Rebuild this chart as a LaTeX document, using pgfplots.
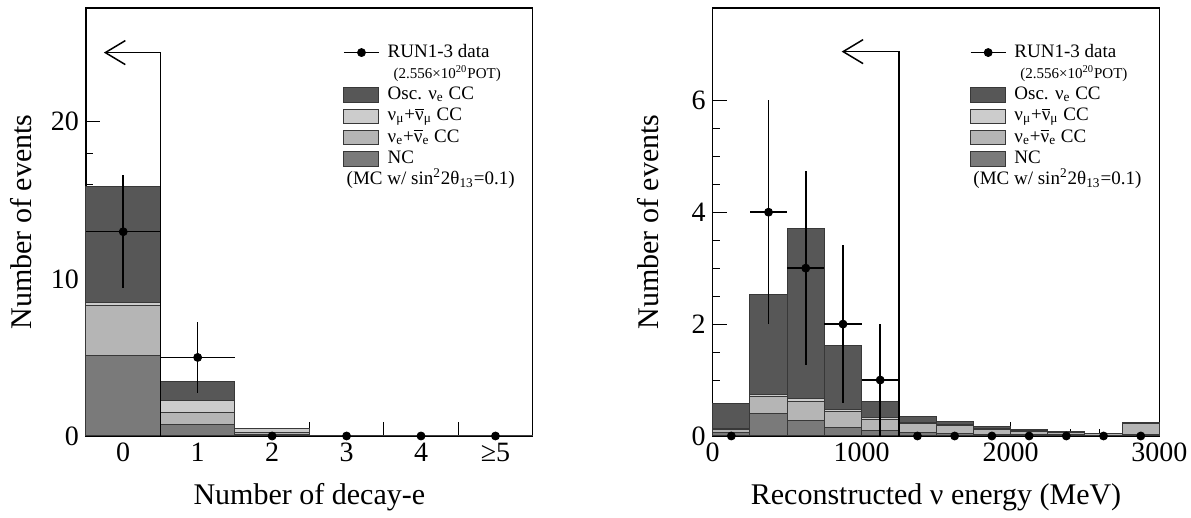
\documentclass[border=0pt]{standalone}
\usepackage{fontspec}
\setmainfont{Liberation Serif}
\usepackage{pgfplots}
\pgfplotsset{compat=1.18}
\usepackage{pgfplotstable}
\usetikzlibrary{arrows.meta}

\definecolor{cosc}{gray}{0.34}
\definecolor{cnumu}{gray}{0.80}
\definecolor{cnue}{gray}{0.71}
\definecolor{cnc}{gray}{0.48}
\definecolor{cedge}{gray}{0.22}

% left: number of decay-e
\pgfplotstableread{
x nc nue numu osc
0 5.10 3.18 0.21 7.37
1 0.72 0.77 0.80 1.21
2 0.12 0.09 0.24 0.02
3 0.01 0.01 0.02 0.01
4 0.00 0.00 0.00 0.00
5 0.00 0.00 0.00 0.00
}\lefttab
\pgfplotstableread{
x y ex ey
0 13 0.5 3.6
1 5 0.5 2.24
2 0 0 0
3 0 0 0
4 0 0 0
5 0 0 0
}\leftdata

% right: reconstructed energy
\pgfplotstableread{
x nc nue numu osc
125 0.06 0.05 0.03 0.44
375 0.40 0.30 0.05 1.78
625 0.27 0.35 0.05 3.03
875 0.15 0.28 0.04 1.14
1125 0.09 0.21 0.03 0.29
1375 0.07 0.15 0.02 0.11
1625 0.05 0.14 0.02 0.05
1875 0.03 0.09 0.01 0.04
2125 0.02 0.06 0.01 0.02
2375 0.02 0.05 0.00 0.01
2625 0.01 0.03 0.00 0.01
2875 0.03 0.19 0.01 0.005
}\righttab
\pgfplotstableread{
x y ex ey
125 0 0 0
375 4 125 2
625 3 125 1.73
875 2 125 1.41
1125 1 125 1
1375 0 0 0
1625 0 0 0
1875 0 0 0
2125 0 0 0
2375 0 0 0
2625 0 0 0
2875 0 0 0
}\rightdata

\pgfplotsset{
  common/.style={
    scale only axis, width=223.35pt, height=214pt,
    anchor=south west, clip=false,
    axis line style={line width=0.7pt},
    tick style={line width=0.5pt, black},
    tick pos=left, tick align=inside,
    major tick length=7pt, minor tick length=3.5pt,
    /pgf/number format/assume math mode=true,
    /pgf/number format/1000 sep={},
    scaled ticks=false,
    tick label style={font=\fontsize{14}{16}\selectfont},
    label style={font=\fontsize{15}{18}\selectfont},
    ylabel={Number of events},
    ylabel style={at={(axis description cs:-0.145,0.5)}, anchor=center},
    xlabel style={at={(axis description cs:0.5,-0.1425)}, anchor=center},
    legend cell align=left,
    legend style={at={(0.575,0.919)}, anchor=north west, draw=none, fill=none,
      inner sep=0pt, column sep=4pt, row sep=1.15pt,
      font=\fontsize{9.5}{11}\selectfont,
      nodes={inner sep=0pt, text height=7pt, text depth=2.5pt}},
  },
  bars/.style={ybar, bar width=#1, bar shift=0pt, draw=cedge, line width=0.5pt, forget plot},
  datastyle/.style={only marks, mark=*, mark size=2pt, black, forget plot,
    error bars/.cd, x dir=both, x explicit, y dir=both, y explicit,
    error bar style={line width=0.75pt, black}, error mark=none},
  legdata/.style={legend image code/.code={
    \draw[line width=0.75pt, black] (0pt,0pt) -- (17.5pt,0pt);
    \fill[black] (8.75pt,0pt) circle (2pt);}},
  legbox/.style={legend image code/.code={
    \draw[fill=#1, draw=cedge, line width=0.5pt] (0pt,-3.6pt) rectangle (17.5pt,3.6pt);}},
}

\newcommand{\legendentries}{%
  \addlegendimage{legdata}
  \addlegendentry{RUN1-3 data}
  \addlegendimage{empty legend}
  \addlegendentry{\fontsize{7.5}{9}\selectfont\hspace*{3pt}(2.556×10\textsuperscript{20}POT)}
  \addlegendimage{legbox=cosc}
  \addlegendentry{Osc. ν\textsubscript{e} CC}
  \addlegendimage{legbox=cnumu}
  \addlegendentry{ν\textsubscript{μ}+$\overline{\mbox{ν}}$\textsubscript{μ} CC}
  \addlegendimage{legbox=cnue}
  \addlegendentry{ν\textsubscript{e}+$\overline{\mbox{ν}}$\textsubscript{e} CC}
  \addlegendimage{legbox=cnc}
  \addlegendentry{NC}
  \addlegendimage{empty legend}
  \addlegendentry{\hspace*{-20.5pt}(MC w/ sin\textsuperscript{2}2θ\textsubscript{13}=0.1)}
}

\begin{document}
\begin{tikzpicture}
\useasboundingbox (0,0) rectangle (595.5pt,259pt);

\begin{axis}[common, at={(43pt,41pt)},
  xmin=-0.5, xmax=5.5, ymin=0, ymax=27.24,
  ytick={0,10,20}, minor y tick num=4,
  xtick={0.5,1.5,2.5,3.5,4.5}, xticklabels={},
  extra x ticks={0,1,2,3,4,5},
  extra x tick labels={0,1,2,3,4,≥5},
  extra x tick style={major tick length=0pt},
  xlabel={Number of decay-e}]
\legendentries
\addplot[bars=1, fill=cosc] table[x=x, y expr=\thisrow{nc}+\thisrow{nue}+\thisrow{numu}+\thisrow{osc}] {\lefttab};
\addplot[bars=1, fill=cnumu] table[x=x, y expr=\thisrow{nc}+\thisrow{nue}+\thisrow{numu}] {\lefttab};
\addplot[bars=1, fill=cnue] table[x=x, y expr=\thisrow{nc}+\thisrow{nue}] {\lefttab};
\addplot[bars=1, fill=cnc] table[x=x, y=nc] {\lefttab};
\draw[line width=0.75pt, -{Straight Barb[length=10pt, width=12pt, line width=0.75pt]}]
  (axis cs:0.5,0) -- (axis cs:0.5,24.4) -- (axis cs:-0.26,24.4);
\addplot[datastyle] table[x=x, y=y, x error=ex, y error=ey] {\leftdata};
\end{axis}

\begin{axis}[common, at={(356.35pt,41pt)},
  xmin=0, xmax=3000, ymin=0, ymax=7.65,
  ytick={0,2,4,6}, minor y tick num=3,
  xtick={0,1000,2000,3000}, minor x tick num=4,
  xlabel={Reconstructed ν energy (MeV)}]
\legendentries
\addplot[bars=250, fill=cosc] table[x=x, y expr=\thisrow{nc}+\thisrow{nue}+\thisrow{numu}+\thisrow{osc}] {\righttab};
\addplot[bars=250, fill=cnumu] table[x=x, y expr=\thisrow{nc}+\thisrow{nue}+\thisrow{numu}] {\righttab};
\addplot[bars=250, fill=cnue] table[x=x, y expr=\thisrow{nc}+\thisrow{nue}] {\righttab};
\addplot[bars=250, fill=cnc] table[x=x, y=nc] {\righttab};
\draw[line width=0.75pt, -{Straight Barb[length=10pt, width=12pt, line width=0.75pt]}]
  (axis cs:1250,0) -- (axis cs:1250,6.87) -- (axis cs:866,6.87);
\addplot[datastyle] table[x=x, y=y, x error=ex, y error=ey] {\rightdata};
\end{axis}
\end{tikzpicture}
\end{document}
